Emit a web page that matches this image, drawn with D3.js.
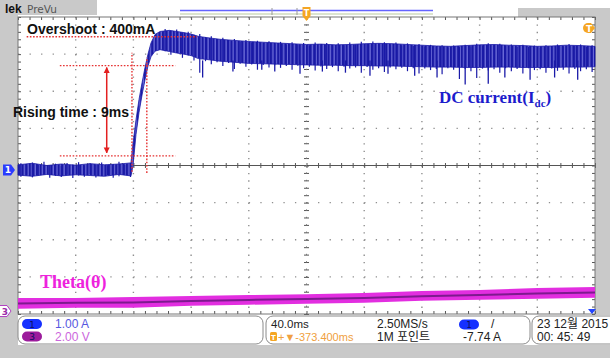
<!DOCTYPE html>
<html>
<head>
<meta charset="utf-8">
<script src="https://cdn.jsdelivr.net/npm/d3@7"></script>
<style>
  body { margin: 0; background: #fff; }
  svg { display: block; }
</style>
</head>
<body>
<div id="scope"></div>
<script>
// scope settings
var timeDomain = [-200, 200];   // ms, 40 ms/div, trigger in the centre
var ch1Scale = 1.00;            // A/div
var ch3Scale = 2.00;            // V/div
var ch1Offset = -0.12;          // div
var ch3Offset = -3.92;          // div

// channel 1, DC current envelope (ms, A)
var idcTime  = [-200, -190, -180, -170, -160, -150, -140, -130, -121.7, -120.3, -118.2, -116.1, -114.0, -112.0, -109.9, -107.8, -105.0, -101.5,
                -95, -90, -85, -80, -75, -70, -60, -50, -40, -30, -20, -10, 0, 10, 20, 30, 40, 50, 60, 70, 80, 90, 100, 110, 120, 130, 140, 150, 160, 170, 180, 190, 200];
var idcUpper = [0.14, 0.18, 0.12, 0.16, 0.13, 0.17, 0.14, 0.16, 0.19, 0.70, 1.35, 1.90, 2.35, 2.75, 3.12, 3.42, 3.65, 3.73,
                3.76, 3.73, 3.70, 3.66, 3.60, 3.57, 3.52, 3.49, 3.46, 3.44, 3.42, 3.40, 3.38, 3.39, 3.37, 3.38, 3.40, 3.41, 3.40, 3.38, 3.36, 3.34, 3.33, 3.35, 3.37, 3.38, 3.36, 3.35, 3.33, 3.34, 3.36, 3.35, 3.33];
var idcLower = [-0.14, -0.17, -0.12, -0.16, -0.13, -0.15, -0.17, -0.12, -0.16, 0.10, 0.95, 1.55, 2.02, 2.42, 2.80, 3.05, 3.20, 3.24,
                3.19, 3.15, 3.12, 3.08, 3.00, 2.98, 2.93, 2.90, 2.87, 2.86, 2.85, 2.84, 2.83, 2.82, 2.82, 2.81, 2.81, 2.80, 2.80, 2.79, 2.78, 2.77, 2.77, 2.76, 2.76, 2.77, 2.77, 2.76, 2.76, 2.76, 2.77, 2.77, 2.78];

// single ripple strokes, every 4 ms (A)
var baseStrokeStart = -198;
var baseStrokeTop = [0.18, 0.12, 0.20, 0.14, 0.22, 0.13, 0.17, 0.11, 0.19, 0.15, 0.21, 0.12, 0.18, 0.14, 0.20, 0.13, 0.16, 0.22, 0.15, 0.18];
var baseStrokeLow = [-0.18, -0.13, -0.20, -0.15, -0.12, -0.21, -0.16, -0.19, -0.13, -0.22, -0.15, -0.18, -0.12, -0.20, -0.16, -0.14, -0.21, -0.17, -0.13, -0.19];
var rippleStart = -98;
var rippleTop = [3.80, 3.74, 3.78, 3.70, 3.72, 3.64, 3.66, 3.58, 3.60, 3.52,
                 3.56, 3.50, 3.53, 3.46, 3.50, 3.44, 3.48, 3.42, 3.47, 3.40,
                 3.45, 3.38, 3.44, 3.37, 3.42, 3.36, 3.43, 3.37, 3.42, 3.35,
                 3.41, 3.36, 3.43, 3.38, 3.45, 3.39, 3.46, 3.40, 3.44, 3.38,
                 3.43, 3.36, 3.41, 3.34, 3.39, 3.33, 3.37, 3.31, 3.36, 3.30,
                 3.35, 3.31, 3.37, 3.33, 3.40, 3.35, 3.41, 3.36, 3.40, 3.34,
                 3.38, 3.32, 3.37, 3.31, 3.35, 3.30, 3.36, 3.32, 3.38, 3.33,
                 3.39, 3.34, 3.38, 3.32, 3.36];
var rippleLow = [3.20, 3.10, 3.15, 3.02, 3.08, 2.95, 2.62, 2.93, 2.85, 2.90,
                 2.80, 2.88, 2.72, 2.86, 2.78, 2.84, 2.70, 2.83, 2.76, 2.82,
                 2.75, 2.80, 2.70, 2.81, 2.74, 2.78, 2.68, 2.79, 2.72, 2.77,
                 2.66, 2.78, 2.73, 2.76, 2.62, 2.77, 2.70, 2.74, 2.64, 2.76,
                 2.71, 2.75, 2.66, 2.74, 2.60, 2.73, 2.69, 2.72, 2.58, 2.74,
                 2.70, 2.45, 2.72, 2.66, 2.48, 2.73, 2.68, 2.71, 2.62, 2.74,
                 2.66, 2.72, 2.60, 2.74, 2.69, 2.71, 2.62, 2.73, 2.67, 2.70,
                 2.60, 2.72, 2.66, 2.71, 2.64];

// deeper spikes under the band (ms, A)
var spikeTime = [-72, -51, -31, -22, -4.5, 11, 27, 44, 56.5, 75, 90.5, 110, 126, 137.5, 155, 172, 188];
var spikeLow  = [2.49, 2.65, 2.70, 2.65, 2.59, 2.65, 2.62, 2.54, 2.59, 2.54, 2.49, 2.30, 2.32, 2.49, 2.43, 2.49, 2.43];
var spikeTop  = 2.95;

// channel 3, theta (ms, V)
var thetaTime  = [-200, -160, -120, -80, -40, 0, 40, 80, 120, 160, 200];
var thetaUpper = [0.70, 0.70, 0.75, 0.81, 0.86, 0.91, 0.97, 1.08, 1.13, 1.24, 1.29];
var thetaLower = [0.12, 0.18, 0.18, 0.28, 0.34, 0.39, 0.45, 0.55, 0.61, 0.66, 0.72];
var thetaCore  = [0.40, 0.44, 0.46, 0.54, 0.60, 0.65, 0.70, 0.80, 0.86, 0.94, 1.00];

// red annotations
var overshootLevel = 3.59;
var overshootSpan = [-194, -76];
var riseLevels = [0.38, 2.81];          // 10 % and 90 %
var riseLevelSpan = [-171, -91];
var riseTimes = [-121, -110.7];
var riseTimeSpans = [[-0.05, 3.16], [-0.08, 3.03]];
var arrowTime = -138.5;
var arrowSpan = [0.46, 2.76];

// status bar texts
var ch1Label = "1.00 A", ch3Label = "2.00 V";
var timeDiv = "40.0ms", trigPos = "-373.400ms";
var sampleRate = "2.50MS/s", recLength = "1M 포인트";
var trigLevel = "-7.74 A";
var dateText = "23 12월  2015", timeText = "00: 45: 49";

var W = 610, H = 358;
var plot = {left: 18, right: 595, top: 17, bottom: 314};

var svg = d3.select("#scope")
    .append("svg")
    .attr("width", W)
    .attr("height", H);

var x = d3.scaleLinear().domain(timeDomain).range([plot.left, plot.right]);
var yDiv = d3.scaleLinear().domain([-4, 4]).range([plot.bottom, plot.top]);
function y1(a) { return yDiv(a / ch1Scale + ch1Offset); }
function y3(v) { return yDiv(v / ch3Scale + ch3Offset); }

var defs = svg.append("defs");
var pat = defs.append("pattern")
    .attr("id", "ripple")
    .attr("width", 3.6).attr("height", 10)
    .attr("patternUnits", "userSpaceOnUse");
pat.append("rect").attr("width", 3.6).attr("height", 10).attr("fill", "#6a6ad8");
pat.append("rect").attr("width", 2.2).attr("height", 10).attr("fill", "#1a1aa4");

["arrowEnd", "arrowStart"].forEach(function (id, i) {
    defs.append("marker")
        .attr("id", id)
        .attr("viewBox", "0 0 10 10")
        .attr("refX", i == 0 ? 9 : 1).attr("refY", 5)
        .attr("markerWidth", 4).attr("markerHeight", 5)
        .attr("orient", "auto")
        .append("path")
        .attr("d", i == 0 ? "M0,0 L10,5 L0,10 z" : "M10,0 L0,5 L10,10 z")
        .attr("fill", "#e32020");
});

// frame and grey borders
var grey = "#c9c9c9";
svg.append("rect").attr("width", W).attr("height", H).attr("fill", "#fff");
svg.append("rect").attr("x", 0).attr("y", 0).attr("width", 97).attr("height", 15).attr("fill", grey);
svg.append("rect").attr("x", 0).attr("y", 15).attr("width", plot.left).attr("height", H - 15).attr("fill", grey);
svg.append("rect").attr("x", 518).attr("y", 8).attr("width", W - 518).attr("height", plot.top - 8).attr("fill", grey);
svg.append("rect").attr("x", plot.right).attr("y", 8).attr("width", W - plot.right).attr("height", H - 8).attr("fill", grey);
svg.append("rect").attr("x", 0).attr("y", 345).attr("width", W).attr("height", H - 345).attr("fill", grey);

svg.append("text").attr("x", 5).attr("y", 12.5)
    .style("font", "bold 12px 'Liberation Sans'").attr("fill", "#111").text("lek");
svg.append("text").attr("x", 27).attr("y", 12.5)
    .style("font", "10.5px 'DejaVu Sans'").attr("fill", "#555").text("PreVu");

// record view line on top
svg.append("line").attr("x1", 180).attr("x2", 433).attr("y1", 10.5).attr("y2", 10.5)
    .attr("stroke", "#6464ff").attr("stroke-width", 1.5);
svg.append("line").attr("x1", 180).attr("x2", 433).attr("y1", 14).attr("y2", 14)
    .attr("stroke", "#b9c9a0").attr("stroke-width", 1);
[272, 297].forEach(function (bx) {
    svg.append("line").attr("x1", bx).attr("x2", bx).attr("y1", 8).attr("y2", 15)
        .attr("stroke", "#999").attr("stroke-width", 1);
});

svg.append("rect")
    .attr("x", plot.left).attr("y", plot.top)
    .attr("width", plot.right - plot.left).attr("height", plot.bottom - plot.top)
    .attr("fill", "#fff");

// dotted graticule
var grid = svg.append("g").attr("stroke", "#8f8f8f").attr("stroke-width", 1.4);
d3.range(1, 10).forEach(function (i) {
    if (i == 5) return;
    var gx = x(timeDomain[0] + i * 40);
    grid.append("line").attr("x1", gx).attr("x2", gx).attr("y1", plot.top).attr("y2", plot.bottom)
        .attr("stroke-dasharray", "1.3," + ((plot.bottom - plot.top) / 40 - 1.3));
});
d3.range(1, 8).forEach(function (j) {
    if (j == 4) return;
    var gy = yDiv(-4 + j);
    grid.append("line").attr("x1", plot.left).attr("x2", plot.right).attr("y1", gy).attr("y2", gy)
        .attr("stroke-dasharray", "1.3," + ((plot.right - plot.left) / 50 - 1.3));
});

// centre cross and border ticks through the axes
var minorT = d3.range(timeDomain[0], timeDomain[1] + 0.1, 8);
var minorV = d3.range(-4, 4.01, 0.2);
function tickAxis(axis, tx, ty) {
    var g = svg.append("g")
        .attr("transform", "translate(" + tx + "," + ty + ")")
        .call(axis.tickSizeOuter(0).tickFormat(""));
    g.select(".domain").remove();
    g.selectAll(".tick line").attr("stroke", "#555");
    return g;
}
tickAxis(d3.axisBottom(x).tickValues(minorT).tickSize(5), 0, yDiv(0) - 2.5);
tickAxis(d3.axisRight(yDiv).tickValues(minorV).tickSize(5), x(0) - 2.5, 0);
tickAxis(d3.axisBottom(x).tickValues(minorT).tickSize(3), 0, plot.top);
tickAxis(d3.axisTop(x).tickValues(minorT).tickSize(3), 0, plot.bottom);
tickAxis(d3.axisRight(yDiv).tickValues(minorV).tickSize(3), plot.left, 0);
tickAxis(d3.axisLeft(yDiv).tickValues(minorV).tickSize(3), plot.right, 0);

svg.append("line").attr("x1", plot.left).attr("x2", plot.right)
    .attr("y1", yDiv(0)).attr("y2", yDiv(0)).attr("stroke", "#555");
svg.append("line").attr("x1", x(0)).attr("x2", x(0))
    .attr("y1", plot.top).attr("y2", plot.bottom).attr("stroke", "#777").attr("stroke-dasharray", "1.3,6.1");

svg.append("rect")
    .attr("x", plot.left).attr("y", plot.top)
    .attr("width", plot.right - plot.left).attr("height", plot.bottom - plot.top)
    .attr("fill", "none").attr("stroke", "#777");

// channel 3, theta
var thetaArea = d3.area()
    .x(function (d, i) { return x(thetaTime[i]); })
    .y0(function (d, i) { return y3(thetaLower[i]); })
    .y1(function (d, i) { return y3(thetaUpper[i]); });
svg.append("path").datum(thetaTime).attr("d", thetaArea).attr("fill", "#e22ee0");
svg.append("path").datum(thetaTime)
    .attr("d", d3.line()
        .x(function (d, i) { return x(thetaTime[i]); })
        .y(function (d, i) { return y3(thetaCore[i]); }))
    .attr("fill", "none").attr("stroke", "#7d1a8e").attr("stroke-width", 2);

// channel 1, DC current
var idcArea = d3.area()
    .x(function (d, i) { return x(idcTime[i]); })
    .y0(function (d, i) { return y1(idcLower[i]); })
    .y1(function (d, i) { return y1(idcUpper[i]); });
svg.append("path").datum(idcTime).attr("d", idcArea)
    .attr("fill", "url(#ripple)").attr("stroke", "#1a1aa8").attr("stroke-width", 0.8);

var strokes = svg.append("g").attr("stroke", "#1a1aa8").attr("stroke-width", 1.2);
function drawStrokes(start, tops, lows) {
    strokes.append("g").selectAll("line")
        .data(tops)
        .enter()
        .append("line")
        .attr("x1", function (d, i) { return x(start + i * 4); })
        .attr("x2", function (d, i) { return x(start + i * 4); })
        .attr("y1", function (d) { return y1(d); })
        .attr("y2", function (d, i) { return y1(lows[i]); });
}
drawStrokes(baseStrokeStart, baseStrokeTop, baseStrokeLow);
drawStrokes(rippleStart, rippleTop, rippleLow);

strokes.append("g").selectAll("line")
    .data(spikeTime)
    .enter()
    .append("line")
    .attr("x1", function (d) { return x(d); })
    .attr("x2", function (d) { return x(d); })
    .attr("y1", y1(spikeTop))
    .attr("y2", function (d, i) { return y1(spikeLow[i]); })
    .attr("stroke-width", 1.3);

// red rise-time / overshoot annotation
var red = svg.append("g").attr("stroke", "#e63232").attr("stroke-width", 1.4).attr("stroke-dasharray", "1.6,1.6");
red.append("line").attr("x1", x(overshootSpan[0])).attr("x2", x(overshootSpan[1]))
    .attr("y1", y1(overshootLevel)).attr("y2", y1(overshootLevel));
riseLevels.forEach(function (lv) {
    red.append("line").attr("x1", x(riseLevelSpan[0])).attr("x2", x(riseLevelSpan[1]))
        .attr("y1", y1(lv)).attr("y2", y1(lv));
});
riseTimes.forEach(function (t, i) {
    red.append("line").attr("x1", x(t)).attr("x2", x(t))
        .attr("y1", y1(riseTimeSpans[i][0])).attr("y2", y1(riseTimeSpans[i][1]));
});
svg.append("line")
    .attr("x1", x(arrowTime)).attr("x2", x(arrowTime))
    .attr("y1", y1(arrowSpan[0])).attr("y2", y1(arrowSpan[1]))
    .attr("stroke", "#e32020").attr("stroke-width", 1.5)
    .attr("marker-end", "url(#arrowEnd)").attr("marker-start", "url(#arrowStart)");

// labels
svg.append("text").attr("x", 27).attr("y", 34)
    .style("font", "bold 14px 'Liberation Sans'").attr("fill", "#111").text("Overshoot : 400mA");
svg.append("text").attr("x", 13).attr("y", 117)
    .style("font", "bold 14px 'Liberation Sans'").attr("fill", "#111").text("Rising time : 9ms");
var dc = svg.append("text").attr("x", 439).attr("y", 103)
    .style("font", "bold 17px 'Liberation Serif'").attr("fill", "#1c1ccc");
dc.append("tspan").text("DC current(I");
dc.append("tspan").attr("dy", 4).style("font-size", "11px").text("dc");
dc.append("tspan").attr("dy", -4).text(")");
svg.append("text").attr("x", 40).attr("y", 288)
    .style("font", "bold 18px 'Liberation Serif'").attr("fill", "#ee22dd").text("Theta(θ)");

// channel and trigger markers
var m1 = svg.append("g").attr("transform", "translate(3," + (y1(0) - 5.5) + ")");
m1.append("path").attr("d", "M0,0 h8 l4,5.5 l-4,5.5 h-8 z").attr("fill", "#2b3cff");
m1.append("text").attr("x", 5).attr("y", 9).attr("text-anchor", "middle")
    .style("font", "bold 9px 'DejaVu Sans'").attr("fill", "#fff").text("1");
var m3 = svg.append("g").attr("transform", "translate(-2," + (y3(0) - 5.5) + ")");
m3.append("path").attr("d", "M0,0 h9 l4,5.5 l-4,5.5 h-9 z").attr("fill", "#fff").attr("stroke", "#b040c0");
m3.append("text").attr("x", 7).attr("y", 9).attr("text-anchor", "middle")
    .style("font", "bold 9px 'DejaVu Sans'").attr("fill", "#9a2aa8").text("3");

var tTop = svg.append("g").attr("transform", "translate(" + x(0) + ",7)");
tTop.append("path").attr("d", "M-4,0 h8 v9 l-4,5 l-4,-5 z").attr("fill", "#f5a623");
tTop.append("text").attr("x", 0).attr("y", 8.5).attr("text-anchor", "middle")
    .style("font", "bold 8px 'DejaVu Sans'").attr("fill", "#fff").text("T");
var tRight = svg.append("g").attr("transform", "translate(583,23)");
tRight.append("path").attr("d", "M5,0 h3 l4,5 l-4,5 h-3 a5,5 0 0 1 0,-10 z").attr("fill", "#f5a623");
tRight.append("text").attr("x", 6).attr("y", 8.5).attr("text-anchor", "middle")
    .style("font", "bold 9px 'DejaVu Sans'").attr("fill", "#fff").text("T");
svg.append("path").attr("d", "M588,309 h8 l-4,5 z").attr("fill", "#2244ff");

// status bar
var sb = svg.append("g");
sb.append("rect").attr("x", plot.left).attr("y", plot.bottom + 1).attr("width", W - plot.left).attr("height", 30).attr("fill", "#fff");
[[18, 245], [266, 264], [532, 90]].forEach(function (b) {
    sb.append("rect").attr("x", b[0]).attr("y", 316).attr("width", b[1]).attr("height", 28)
        .attr("rx", 7).attr("fill", "#fff").attr("stroke", "#8a8a8a");
});
function pill(px, py, fill, label) {
    sb.append("rect").attr("x", px).attr("y", py).attr("width", 20).attr("height", 10)
        .attr("rx", 5).attr("fill", fill);
    sb.append("text").attr("x", px + 10).attr("y", py + 8.5).attr("text-anchor", "middle")
        .style("font", "9px 'DejaVu Sans'").attr("fill", "#101060").text(label);
}
pill(22, 319, "#1530ff", "1");
pill(22, 331.5, "#9c1c9c", "3");
pill(459, 319.5, "#1530ff", "1");

var sFont = "12px 'Liberation Sans', 'Noto Sans CJK KR'";
sb.append("text").attr("x", 55).attr("y", 328).style("font", sFont).attr("fill", "#5656e0").text(ch1Label);
sb.append("text").attr("x", 55).attr("y", 341).style("font", sFont).attr("fill", "#cc66dd").text(ch3Label);
sb.append("text").attr("x", 271).attr("y", 328).style("font", "11.5px 'Liberation Sans'").attr("fill", "#222").text(timeDiv);
sb.append("rect").attr("x", 270).attr("y", 332).attr("width", 7).attr("height", 9).attr("rx", 1.5).attr("fill", "#f5a623");
sb.append("text").attr("x", 273.5).attr("y", 339.5).attr("text-anchor", "middle")
    .style("font", "bold 7px 'DejaVu Sans'").attr("fill", "#fff").text("T");
sb.append("text").attr("x", 278).attr("y", 341).style("font", "11px 'Liberation Sans', 'DejaVu Sans'")
    .attr("fill", "#f0a040").text("+▼" + trigPos);
sb.append("text").attr("x", 377).attr("y", 328).style("font", sFont).attr("fill", "#222").text(sampleRate);
sb.append("text").attr("x", 377).attr("y", 341).style("font", sFont).attr("fill", "#222").text(recLength);
sb.append("text").attr("x", 491).attr("y", 328).style("font", sFont).attr("fill", "#222").text("/");
sb.append("text").attr("x", 463).attr("y", 341).style("font", sFont).attr("fill", "#222").text(trigLevel);
sb.append("text").attr("x", 537).attr("y", 328).style("font", sFont).attr("fill", "#222").text(dateText);
sb.append("text").attr("x", 537).attr("y", 341).style("font", sFont).attr("fill", "#222").text(timeText);
</script>
</body>
</html>
